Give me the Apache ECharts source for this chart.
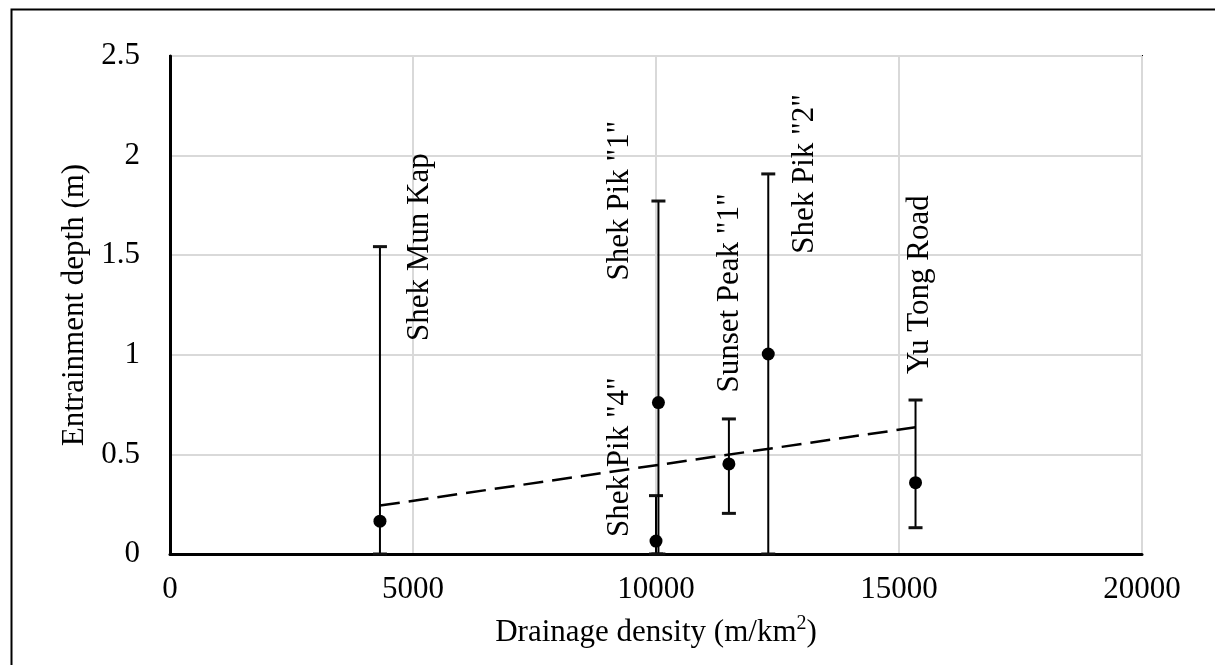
<!DOCTYPE html>
<html>
<head>
<meta charset="utf-8">
<script src="https://cdn.jsdelivr.net/npm/echarts@6/dist/echarts.min.js"></script>
<style>
  html, body { margin: 0; padding: 0; background: #fff; }
  #chart { width: 1215px; height: 665px; }
</style>
</head>
<body>
<div id="chart"></div>
<script>
// Debris-flow sites: drainage density vs. entrainment depth
const sites = ['Shek Mun Kap', 'Shek Pik "4"', 'Shek Pik "1"', 'Sunset Peak "1"', 'Shek Pik "2"', 'Yu Tong Road'];
const drainageDensity = [4320, 10000, 10050, 11500, 12310, 15340];   // m/km²
const meanDepth = [0.165, 0.065, 0.76, 0.452, 1.004, 0.358];        // m
const minDepth = [0, 0, 0, 0.204, 0, 0.132];                        // m
const maxDepth = [1.543, 0.293, 1.772, 0.678, 1.908, 0.773];        // m

// Linear trend endpoints
const trendX = [4320, 15340];
const trendY = [0.243, 0.636];

// Axis ticks
const xTicks = [0, 5000, 10000, 15000, 20000];
const yTicks = [0, 0.5, 1, 1.5, 2, 2.5];

// Pixel offsets of each site's rotated label from its mean point
const labelOffsets = [[40, -274], [-36, -84], [-39, -202], [1, -171], [37, -180], [4, -198]];

const FONT = '"Liberation Serif", "Times New Roman", serif';

const errorData = sites.map((s, i) => [drainageDensity[i], meanDepth[i], minDepth[i], maxDepth[i], i]);
const pointData = sites.map((s, i) => [drainageDensity[i], meanDepth[i]]);
const trendData = trendX.map((x, i) => [x, trendY[i]]);

const chart = echarts.init(document.getElementById('chart'));

chart.setOption({
  backgroundColor: '#fff',
  animation: false,
  graphic: [{
    type: 'rect',
    left: 9, top: 7,
    shape: { x: 0, y: 0, width: 1300, height: 800 },
    style: { fill: 'none', stroke: '#000', lineWidth: 2 },
    silent: true
  }],
  grid: {
    left: 170, top: 56, right: 73, bottom: 111,
    show: true, borderColor: '#000', borderWidth: 2, backgroundColor: 'transparent'
  },
  xAxis: {
    type: 'value',
    min: xTicks[0], max: xTicks[xTicks.length - 1], interval: xTicks[1] - xTicks[0],
    name: '{t|Drainage density (m/km}{sup|2}{t|)}',
    nameLocation: 'middle',
    nameGap: 60,
    nameTextStyle: {
      fontFamily: FONT, fontSize: 31, color: '#000',
      rich: {
        t: { fontFamily: FONT, fontSize: 31, color: '#000', lineHeight: 34, verticalAlign: 'bottom' },
        sup: { fontFamily: FONT, fontSize: 20, color: '#000', lineHeight: 34, verticalAlign: 'top', padding: [0, 0, 14, 0] }
      }
    },
    axisLine: { show: true, lineStyle: { color: '#000', width: 3 } },
    axisTick: { show: false },
    axisLabel: { fontFamily: FONT, fontSize: 31, color: '#000', margin: 20, formatter: v => String(v) },
    splitLine: { show: true, lineStyle: { color: '#d9d9d9', width: 2 } }
  },
  yAxis: {
    type: 'value',
    min: yTicks[0], max: yTicks[yTicks.length - 1], interval: yTicks[1] - yTicks[0],
    name: 'Entrainment depth (m)',
    nameLocation: 'middle',
    nameGap: 80,
    nameTextStyle: { fontFamily: FONT, fontSize: 31, color: '#000' },
    axisLine: { show: true, lineStyle: { color: '#000', width: 3 } },
    axisTick: { show: false },
    axisLabel: { fontFamily: FONT, fontSize: 31, color: '#000', margin: 30, formatter: v => String(v) },
    splitLine: { show: true, lineStyle: { color: '#d9d9d9', width: 2 } }
  },
  series: [
    {
      type: 'line',
      data: trendData,
      showSymbol: false,
      symbol: 'none',
      lineStyle: { color: '#000', width: 2.5, type: [20, 9] },
      z: 2
    },
    {
      type: 'custom',
      data: errorData,
      clip: false,
      z: 3,
      renderItem: function (params, api) {
        const x = api.value(0);
        const lo = api.coord([x, api.value(2)]);
        const hi = api.coord([x, api.value(3)]);
        const mid = api.coord([x, api.value(1)]);
        const idx = api.value(4);
        const off = labelOffsets[idx];
        const capW = 7;
        return {
          type: 'group',
          children: [
            { type: 'line', shape: { x1: lo[0], y1: lo[1], x2: hi[0], y2: hi[1] },
              style: { stroke: '#000', lineWidth: 2 } },
            { type: 'line', shape: { x1: hi[0] - capW, y1: hi[1], x2: hi[0] + capW, y2: hi[1] },
              style: { stroke: '#111', lineWidth: 3 } },
            { type: 'line', shape: { x1: lo[0] - capW, y1: lo[1], x2: lo[0] + capW, y2: lo[1] },
              style: { stroke: '#111', lineWidth: 3 } },
            { type: 'text', x: mid[0] + off[0], y: mid[1] + off[1], rotation: Math.PI / 2,
              style: { text: sites[idx], fontFamily: FONT, fontSize: 31, fill: '#000',
                       align: 'center', verticalAlign: 'middle' } }
          ]
        };
      }
    },
    {
      type: 'scatter',
      data: pointData,
      symbol: 'circle',
      symbolSize: 13,
      itemStyle: { color: '#000', opacity: 1 },
      z: 4
    }
  ]
});
</script>
</body>
</html>
